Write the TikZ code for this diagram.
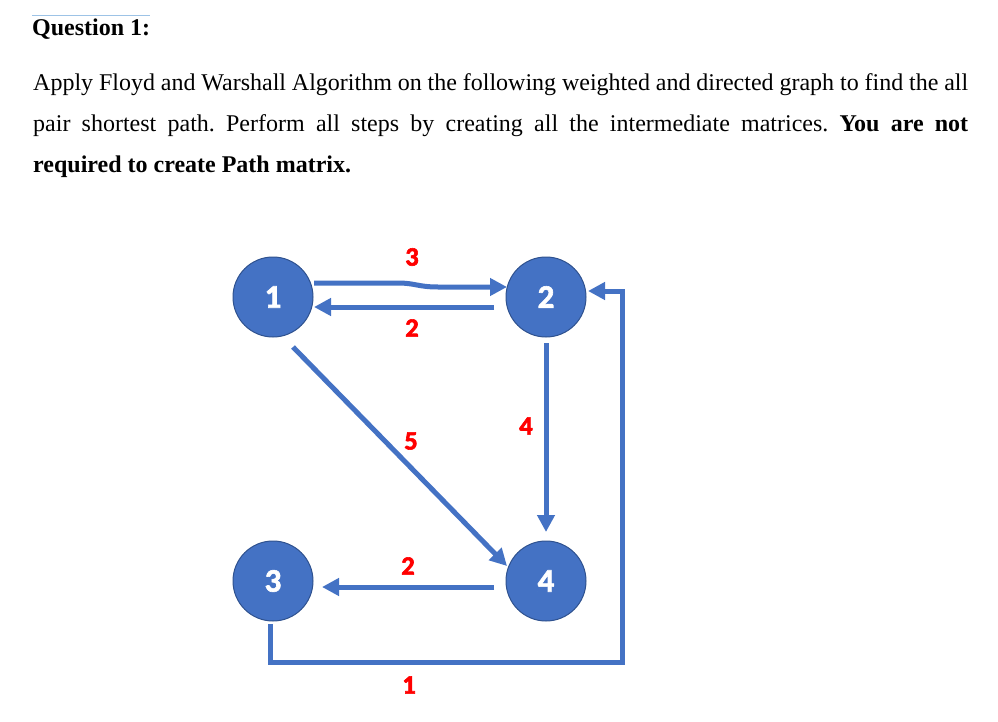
\documentclass[tikz,border=0pt]{standalone}
\usepackage{fontspec}
\setmainfont{Liberation Serif}
\newfontfamily\calibb{Carlito Bold}
\newcommand\heavytext[1]{\special{pdf:literal direct 2 Tr 0.6 w}#1\special{pdf:literal direct 0 Tr}}
\usetikzlibrary{arrows.meta,calc}
\definecolor{ofblue}{HTML}{4472C4}
\definecolor{ofdark}{HTML}{2F528F}
\definecolor{lblue}{HTML}{9DC3E6}
\frenchspacing
\begin{document}
\begin{tikzpicture}[x=1pt,y=-1pt,
 vert/.style={circle,fill=ofblue,draw=ofdark,line width=1pt,minimum size=80pt,inner sep=0pt,text=white,font=\calibb\fontsize{33}{33}\selectfont},
 arr/.style={draw=ofblue,line width=5pt,-{Triangle[length=17pt,width=17pt]}},
 wt/.style={text=red,font=\calibb\fontsize{26.5}{26.5}\selectfont,inner sep=0pt},
 txt/.style={anchor=base west,inner sep=0pt,font=\fontsize{24}{29}\selectfont}]
\useasboundingbox (0,0) rectangle (998,722);
\fill[white] (0,0) rectangle (998,722);
% header
\coordinate (hl) at (32,16);
\coordinate (hr) at (150,16);
\draw[lblue,line width=1pt] (hl) -- (hr);
\node[txt] (q) at (32,36) {\textbf{Question 1:}};
\node[txt] (l1) at (33,91) {\makebox[935pt][s]{Apply Floyd and Warshall Algorithm on the following weighted and directed graph to find the all}};
\node[txt] (l2) at (33,132) {\makebox[935pt][s]{pair shortest path. Perform all steps by creating all the intermediate matrices. \textbf{You are not}}};
\node[txt] (l3) at (33,173) {\textbf{required to create Path matrix.}};
% vertices
\node[vert] (n1) at (273,297) {\heavytext{1}};
\node[vert] (n2) at (546,297) {\heavytext{2}};
\node[vert] (n3) at (273,581) {\heavytext{3}};
\node[vert] (n4) at (546,581) {\heavytext{4}};
% edges
\draw[arr] ($(n1)+(41,-14)$) -- ($(n1)+(125,-14)$) .. controls ($(n1)+(142,-14)$) and ($(n1)+(145,-10)$) .. ($(n1)+(165,-10)$) -- ($(n2)+(-39,-10)$);
\draw[arr] ($(n2)+(-52,10)$) -- ($(n1)+(41,10)$);
\draw[arr] ($(n1)+(20,50)$) -- ($(n4)+(-39,-15)$);
\draw[arr] ($(n2)+(0,46)$) -- ($(n4)+(0,-49)$);
\draw[arr] ($(n4)+(-52,6)$) -- ($(n3)+(49,6)$);
\coordinate (c1) at (622,662);
\draw[arr,line join=miter] ($(n3)+(-3,43)$) |- (c1) |- ($(n2)+(42,-6)$);
% weights
\node[wt] (w12) at (412,257) {\heavytext{3}};
\node[wt] (w21) at (412,328) {\heavytext{2}};
\node[wt] (w14) at (411,441) {\heavytext{5}};
\node[wt] (w24) at (526,426) {\heavytext{4}};
\node[wt] (w43) at (408,566) {\heavytext{2}};
\node[wt] (w32) at (409,685) {\heavytext{1}};
\end{tikzpicture}
\end{document}
